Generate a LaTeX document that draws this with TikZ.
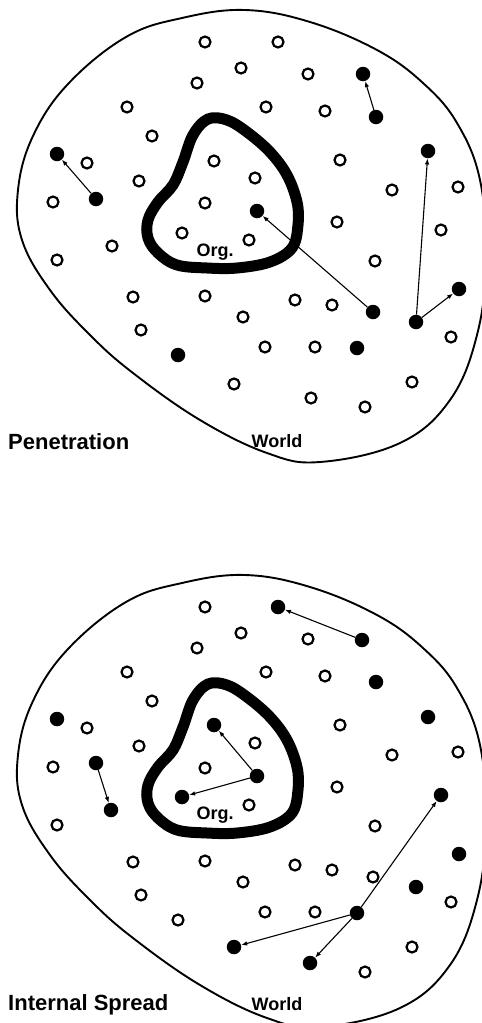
\documentclass[tikz,border=0pt]{standalone}
\usepackage{fontspec}
\setmainfont{Liberation Sans}
\usetikzlibrary{arrows.meta}

\begin{document}
\begin{tikzpicture}[
  x=1pt, y=-1pt,
  opn/.style={circle, draw, line width=2.2pt, minimum size=11pt, inner sep=0pt},
  ful/.style={circle, fill, minimum size=14.5pt, inner sep=0pt},
  ar/.style={-{Latex[length=6pt,width=4.5pt]}, line width=1.1pt},
  world/.style={line width=1.9pt},
  org/.style={line width=11pt},
  big/.style={font=\fontsize{22}{26}\selectfont\bfseries, anchor=west, inner sep=0pt},
  small/.style={font=\fontsize{18}{22}\selectfont\bfseries, inner sep=0pt},
]
\useasboundingbox (0,0) rectangle (482,1023);

% World and Org. outlines, same in both panels
\foreach \dy in {0,565}{
  \begin{scope}[shift={(0,\dy)}]
    \draw[world] plot[smooth cycle, tension=0.65] coordinates {
      (245,10) (182,18) (126,37) (68,84) (33,136) (18,190) (22,240) (50,290)
      (90,335) (133,373) (200,420) (267,453) (320,462) (400,443) (450,400)
      (477,335) (486,260) (480,180) (457,123) (423,83) (377,50) (310,22)};
    \draw[org] plot[smooth cycle, tension=0.6] coordinates {
      (208,119) (193,135) (183,162) (173,185) (158,202) (148,220) (148,238)
      (158,253) (177,265) (207,268) (237,268) (270,262) (292,248) (298,225)
      (297,202) (287,175) (270,152) (247,132) (227,120)};
  \end{scope}
}

% Top panel - Penetration
\foreach \x/\y [count=\i] in {205/42, 278/42, 241/68, 197/83, 308/74, 127/107,
    266/107, 325/111, 152/136, 87/163, 214/161, 340/160, 255/178, 139/181,
    392/190, 458/187, 53/202, 205/203, 337/222, 441/230, 182/233, 249/240,
    112/246, 57/260, 375/261, 133/297, 205/296, 295/300, 332/305, 243/317,
    141/330, 451/337, 265/347, 315/347, 234/384, 412/382, 311/398, 365/407}
  \node[opn] (po\i) at (\x,\y) {};

\node[ful] (pf1) at (363,74) {};
\node[ful] (pf2) at (376,117) {};
\node[ful] (pf3) at (428,151) {};
\node[ful] (pf4) at (57,154) {};
\node[ful] (pf5) at (96,199) {};
\node[ful] (pf6) at (257,211) {};
\node[ful] (pf7) at (373,312) {};
\node[ful] (pf8) at (416,322) {};
\node[ful] (pf9) at (459,289) {};
\node[ful] (pf10) at (178,355) {};
\node[ful] (pf11) at (357,348) {};

\draw[ar] (pf2) -- (pf1);
\draw[ar] (pf5) -- (pf4);
\draw[ar] (pf7) -- (pf6);
\draw[ar] (pf8) -- (pf3);
\draw[ar] (pf8) -- (pf9);

\node[small] (porg) at (215,252) {Org.};
\node[small] (pworld) at (277,441) {World};
\node[big] (pen) at (8,442) {Penetration};

% Bottom panel - Internal Spread
\begin{scope}[shift={(0,565)}]
\foreach \x/\y [count=\i] in {205/42, 241/68, 197/83, 308/74, 127/107, 266/107,
    325/111, 152/136, 87/163, 340/160, 255/178, 139/181, 392/190, 458/187,
    53/202, 205/203, 337/222, 249/240, 57/260, 375/261, 133/297, 205/296,
    295/300, 332/305, 243/317, 373/312, 141/330, 451/337, 178/355, 265/347,
    315/347, 412/382, 365/407}
  \node[opn] (so\i) at (\x,\y) {};

\node[ful] (sf1) at (278,42) {};
\node[ful] (sf2) at (362,75) {};
\node[ful] (sf3) at (376,117) {};
\node[ful] (sf4) at (428,152) {};
\node[ful] (sf5) at (57,154) {};
\node[ful] (sf6) at (214,160) {};
\node[ful] (sf7) at (96,198) {};
\node[ful] (sf8) at (257,211) {};
\node[ful] (sf9) at (441,230) {};
\node[ful] (sf10) at (182,232) {};
\node[ful] (sf11) at (111,245) {};
\node[ful] (sf12) at (459,289) {};
\node[ful] (sf13) at (416,322) {};
\node[ful] (sf14) at (357,348) {};
\node[ful] (sf15) at (234,382) {};
\node[ful] (sf16) at (310,398) {};

\draw[ar] (sf2) -- (sf1);
\draw[ar] (sf7) -- (sf11);
\draw[ar] (sf8) -- (sf6);
\draw[ar] (sf8) -- (sf10);
\draw[ar] (sf14) -- (sf9);
\draw[ar] (sf14) -- (sf15);
\draw[ar] (sf14) -- (sf16);

\node[small] (sorg) at (215,250) {Org.};
\node[small] (sworld) at (277,439) {World};
\node[big] (spr) at (8,440) {Internal Spread};
\end{scope}
\end{tikzpicture}
\end{document}
